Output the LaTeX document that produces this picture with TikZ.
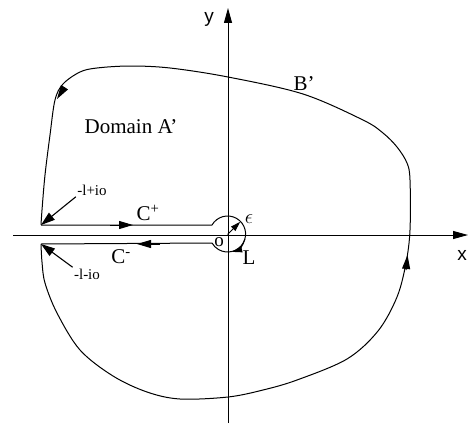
\documentclass[tikz,border=0pt]{standalone}
\usepackage{fontspec}
\setmainfont{Liberation Serif}
\newfontfamily\axfont{Liberation Sans}
\usetikzlibrary{arrows.meta}
\begin{document}
\begin{tikzpicture}[x=1pt,y=-1pt,line width=1pt,line join=round,
  axisarrow/.style={-{Triangle[length=15pt,width=8pt]}},
  tiparrow/.style={-{Triangle[length=14pt,width=8pt]}},
  leader/.style={-{Triangle[length=14pt,width=9pt]},line width=1.1pt},
  lbl/.style={inner sep=1pt},
  axlbl/.style={lbl,font=\axfont\fontsize{19}{21}\selectfont},
  biglbl/.style={lbl,font=\fontsize{21}{23}\selectfont},
  medlbl/.style={lbl,font=\fontsize{21}{23}\selectfont},
  smalllbl/.style={lbl,font=\fontsize{15}{17}\selectfont},
]
\useasboundingbox (0,0) rectangle (470,428);
% axes
\coordinate (xl) at (13,235);
\coordinate (xr) at (468,235);
\coordinate (yb) at (228,423);
\coordinate (yt) at (228,8);
\draw[axisarrow] (xl) -- (xr);
\draw[axisarrow] (yb) -- (yt);
\node[axlbl] (ylab) at (209,19) {y};
\node[axlbl] (xlab) at (462,255) {x};
% keyhole part
\coordinate (UL) at (41,225);
\coordinate (LL) at (41,244);
\coordinate (O) at (227.5,234.5);
\draw (UL) -- (212,225) arc[start angle=210,end angle=510,radius=18] -- (LL);
% outer contour
\draw plot[smooth,tension=0.55] coordinates {
 (41,244) (42,262) (45,283) (57,313) (80,350) (113,376) (147,392) (180,399)
 (228,397) (263,390) (297,380) (347,359) (378,331) (397,297) (406,263)
 (410,230) (410,180) (407,163) (397,147) (383,133) (363,120) (303,94)
 (228,77) (170,68) (130,66) (97,68) (80,72) (63,84) (55,100) (50,135)
 (45,175) (42,210) (41,225)};
% direction arrows
\draw[tiparrow] (110,225) -- (133,225);
\draw[tiparrow] (160,244) -- (137,244);
\draw[tiparrow] (64,88) -- (57,99);
\draw[tiparrow] (406,270) -- (407.5,255);
\draw[-{Triangle[length=10pt,width=6pt]}] (O) -- ++(-45:18);
\draw[-{Triangle[length=10pt,width=6pt]}] (O) ++(15:18) arc[start angle=15,end angle=75,radius=18];
% labels
\node[biglbl] (dom) at (131,127) {Domain A'};
\node[medlbl] (bp) at (304,84) {B'};
\node[medlbl] (cp) at (148,213) {C\textsuperscript{+}};
\node[medlbl] (cm) at (121,257) {C\textsuperscript{-}};
\node[smalllbl] (lp) at (92,190) {-l+io};
\node[smalllbl] (lm) at (87,274) {-l-io};
\node[medlbl,font=\fontsize{19}{21}\selectfont] (olab) at (219,242) {o};
\node[medlbl] (eps) at (249,219) {$\epsilon$};
\node[medlbl] (llab) at (249,258) {L};
\draw[leader] (lp.south west) -- (UL);
\draw[leader] (lm.north west) -- (LL);
\end{tikzpicture}
\end{document}
